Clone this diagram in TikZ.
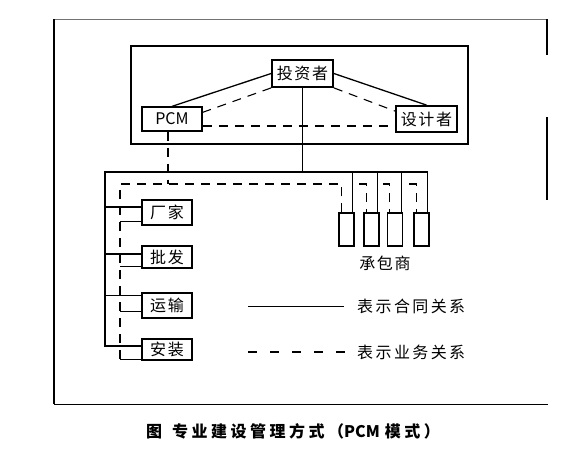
\documentclass[tikz,border=0pt]{standalone}
\usepackage{fontspec}
\newfontfamily\cjk{Noto Sans CJK SC}
\newfontfamily\cjksp{Noto Sans CJK SC}[LetterSpace=10]
\newfontfamily\cjkleg{Noto Sans CJK SC}[LetterSpace=15]
\newfontfamily\cjkcap{Noto Sans CJK SC}[LetterSpace=22]
\usetikzlibrary{calc}
\begin{document}
\begin{tikzpicture}[x=1pt,y=-1pt,
  box/.style={draw,line width=1.3pt,inner sep=0pt,font=\fontsize{16}{16}\selectfont\cjksp},
  thickbox/.style={box,line width=1.8pt},
  cbox/.style={draw,line width=1.3pt,inner sep=0pt,minimum width=15pt,minimum height=33pt},
  con/.style={line width=1.3pt},
  conthin/.style={line width=1pt},
  biz/.style={line width=1.1pt,dash pattern=on 9pt off 7pt},
  legbiz/.style={line width=1.1pt,dash pattern=on 9pt off 13pt},
  lbl/.style={inner sep=0pt,font=\fontsize{16}{16}\selectfont\cjkleg}]
\useasboundingbox (0,0) rectangle (580,456);
% outer frame
\draw[line width=0.8pt,black!55] (54,19) -- (547,19);
\draw[line width=1.3pt] (54,19) -- (54,404);
\draw[line width=0.9pt] (54,404) -- (548,404);
\draw[line width=1.3pt] (547,19) -- (547,55);
\draw[line width=1.3pt] (547,117) -- (547,200);
% inner frame
\draw[line width=1.4pt] (131,46) rectangle (468,144);
% nodes
\node[thickbox,minimum width=61pt,minimum height=27pt] (inv) at (302.5,73.5) {投资者};
\node[box,minimum width=60pt,minimum height=24pt,font=\fontsize{16}{16}\selectfont\addfontfeatures{LetterSpace=10}\cjk] (pcm) at (172,119) {PCM};
\node[thickbox,minimum width=61pt,minimum height=26pt] (des) at (426.5,119) {设计者};
\node[box,minimum width=50pt,minimum height=25pt] (f1) at (167,212.5) {厂家};
\node[box,minimum width=50pt,minimum height=22pt] (f2) at (167,257) {批发};
\node[box,minimum width=50pt,minimum height=25pt] (f3) at (167,305.5) {运输};
\node[box,minimum width=50pt,minimum height=21pt] (f4) at (167,349.5) {安装};
\node[cbox] (c1) at (346.5,229.5) {};
\node[cbox] (c2) at (371.5,229.5) {};
\node[cbox] (c3) at (395,229.5) {};
\node[cbox] (c4) at (421.5,229.5) {};
\node[inner sep=0pt,font=\fontsize{16}{16}\selectfont\cjksp] (cl) at (385,263) {承包商};
% top connections
\draw[con] (inv.west) -- (pcm.north);
\draw[con] (inv.east) -- (des.north);
\draw[biz] (inv.south west) -- ([yshift=-6pt]pcm.north east);
\draw[biz] (inv.south east) -- ([yshift=-6pt]des.north west);
\draw[biz] ([yshift=-7pt]pcm.east) -- ([yshift=-7pt]des.west);
% solid (contract) network
\coordinate (busL) at (105,172);
\coordinate (f1s) at ([yshift=5.5pt]f1.west);
\coordinate (f2s) at ([yshift=3pt]f2.west);
\coordinate (f3s) at ([yshift=10pt]f3.west);
\coordinate (f4s) at ([yshift=3.5pt]f4.west);
\draw[con] (inv.south) -- (inv.south |- busL);
\foreach \i in {1,...,4}{
  \coordinate (c\i s) at ([xshift=-2pt]c\i.north east);
  \coordinate (c\i d) at ([xshift=3pt]c\i.north west);
}
\draw[con] (c4s |- busL) -- (busL) -- (busL |- f4s) -- (f4s);
\foreach \i in {1,2,3}{ \draw[con] (busL |- f\i s) -- (f\i s); }
\foreach \i in {1,...,4}{ \draw[conthin] (c\i s) -- (c\i s |- busL); }
% dashed (business) network
\coordinate (dL) at (120,184);
\coordinate (f1d) at ([yshift=-8.5pt]f1.west);
\coordinate (f2d) at ([yshift=-9pt]f2.west);
\coordinate (f3d) at ([yshift=-5.5pt]f3.west);
\coordinate (f4d) at ([yshift=-9.5pt]f4.west);
\draw[biz] ([xshift=-4pt]pcm.south) -- ([xshift=-4pt]pcm.south |- dL);
\draw[biz] (c1d) -- (c1d |- dL) -- (dL) -- (dL |- f4d);
\foreach \i in {2,3,4}{ \draw[biz] ($(c\i d |- dL)+(-7,0)$) -- (c\i d |- dL) -- (c\i d); }
\foreach \i in {1,2,3,4}{ \draw[conthin] (dL |- f\i d) -- (f\i d); }
% legend
\node[lbl,anchor=west] (leg1) at (357,306) {表示合同关系};
\node[lbl,anchor=west] (leg2) at (357,352) {表示业务关系};
\coordinate (l1a) at (248,306);
\coordinate (l2a) at (248,352);
\draw[conthin] (l1a) -- ([xshift=-13pt]leg1.west);
\draw[legbiz] (l2a) -- ([xshift=-2pt]leg2.west);
% caption
\node[inner sep=0pt,font=\fontsize{16}{16}\selectfont\cjkcap\bfseries] (cap) at (293,431) {图\hspace{10pt}专业建设管理方式（{\addfontfeatures{LetterSpace=0}PCM\hspace{5pt}}模式）};
\end{tikzpicture}
\end{document}
